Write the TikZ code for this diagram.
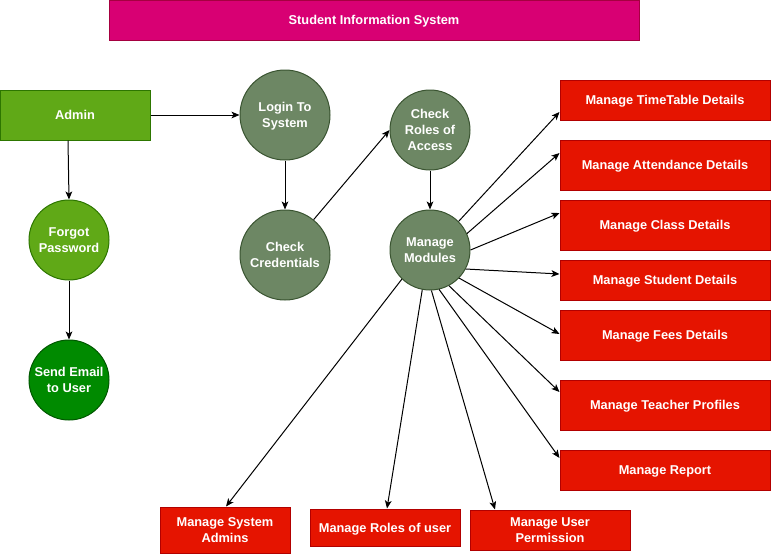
\documentclass[tikz,border=0pt]{standalone}
\usepackage{fontspec}
\setmainfont{Liberation Sans}
\usepackage{tikz}
\usetikzlibrary{arrows.meta,calc}

\definecolor{titlefill}{HTML}{D80073}
\definecolor{titleline}{HTML}{A50040}
\definecolor{adminfill}{HTML}{60A917}
\definecolor{adminline}{HTML}{2D7600}
\definecolor{mailfill}{HTML}{008A00}
\definecolor{mailline}{HTML}{005700}
\definecolor{stepfill}{HTML}{6D8764}
\definecolor{stepline}{HTML}{3A5431}
\definecolor{modfill}{HTML}{E51400}
\definecolor{modline}{HTML}{B20000}

\begin{document}
\begin{tikzpicture}[x=0.75pt,y=0.75pt,yscale=-1,xscale=1,
  every node/.style={font=\fontsize{9.6}{12}\selectfont\bfseries,text=white,align=center,inner sep=0.75pt,line width=0.75pt,text depth=-1.5pt},
  titlebox/.style={draw=titleline,fill=titlefill,minimum width=397.5pt,minimum height=30pt},
  adminbox/.style={draw=adminline,fill=adminfill,minimum width=112.5pt,minimum height=37.5pt},
  greencirc/.style={circle,draw=adminline,fill=adminfill,minimum size=60pt},
  mailcirc/.style={circle,draw=mailline,fill=mailfill,minimum size=60pt},
  stepcirc/.style={circle,draw=stepline,fill=stepfill},
  modbox/.style={draw=modline,fill=modfill,minimum width=157.5pt},
  link/.style={draw,line width=0.75pt,-{Stealth[length=6pt,width=5pt,inset=1.5pt]}}]
\useasboundingbox (0,0) rectangle (771,554);

%Shape: Rectangle [title]
\draw (374,20) node (title) [titlebox] {Student Information System};
%Shape: Rectangle [admin]
\draw (75,115) node (admin) [adminbox] {Admin};
%Shape: Circle [forgot]
\draw (69,240) node (forgot) [greencirc] {Forgot\\Password};
%Shape: Circle [email]
\draw (69,380) node (email) [mailcirc] {Send Email\\to User};
%Shape: Circle [login]
\draw (285,115) node (login) [stepcirc,minimum size=67.5pt] {Login To\\System};
%Shape: Circle [check]
\draw (285,255) node (check) [stepcirc,minimum size=67.5pt] {Check\\Credentials};
%Shape: Circle [roles of access]
\draw (430,130) node (access) [stepcirc,minimum size=60pt] {Check\\Roles of\\Access};
%Shape: Circle [modules]
\draw (430,250) node (modules) [stepcirc,minimum size=60pt] {Manage\\Modules};

%Shape: Rectangle [module boxes]
\draw (665,100) node (timetable) [modbox,minimum height=30pt] {Manage TimeTable Details};
\draw (665,165) node (attendance) [modbox,minimum height=37.5pt] {Manage Attendance Details};
\draw (665,225) node (class) [modbox,minimum height=37.5pt] {Manage Class Details};
\draw (665,280) node (student) [modbox,minimum height=30pt] {Manage Student Details};
\draw (665,335) node (fees) [modbox,minimum height=37.5pt] {Manage Fees Details};
\draw (665,405) node (teacher) [modbox,minimum height=37.5pt] {Manage Teacher Profiles};
\draw (665,470) node (report) [modbox,minimum height=30pt] {Manage Report};
\draw (225,530) node (sysadmins) [modbox,minimum width=97.5pt,minimum height=34.5pt] {Manage System\\Admins};
\draw (385,527.5) node (userroles) [modbox,minimum width=112.5pt,minimum height=27.75pt] {Manage Roles of user};
\draw (550,530) node (permission) [modbox,minimum width=120pt,minimum height=30pt] {Manage User\\Permission};

%Straight Lines [login flow]
\draw [link] (admin.east) -- (login.west);
\draw [link] ($(admin.south)+(-7,0)$) -- (forgot.north);
\draw [link] (forgot.south) -- (email.north);
\draw [link] (login.south) -- (check.north);
\draw [link] (check.51) -- (access.west);
\draw [link] (access.south) -- (modules.north);

%Straight Lines [modules]
\draw [link] (modules.45) -- ($(timetable.west)+(0,12)$);
\draw [link] (modules.24) -- ($(attendance.west)+(0,-12)$);
\draw [link] (modules.0) -- ($(class.west)+(0,-12)$);
\draw [link] (modules.-28) -- ($(student.west)+(0,-6)$);
\draw [link] (modules.-44) -- ($(fees.west)+(0,-1)$);
\draw [link] (modules.-62) -- ($(teacher.west)+(0,-13)$);
\draw [link] (modules.-77) -- ($(report.west)+(0,-12)$);
\draw [link] (modules.-88) -- ($(permission.north)+(-55,0)$);
\draw [link] (modules.-101) -- ($(userroles.north)+(2,0)$);
\draw [link] (modules.-134) -- ($(sysadmins.north)+(1,0)$);

\end{tikzpicture}
\end{document}
